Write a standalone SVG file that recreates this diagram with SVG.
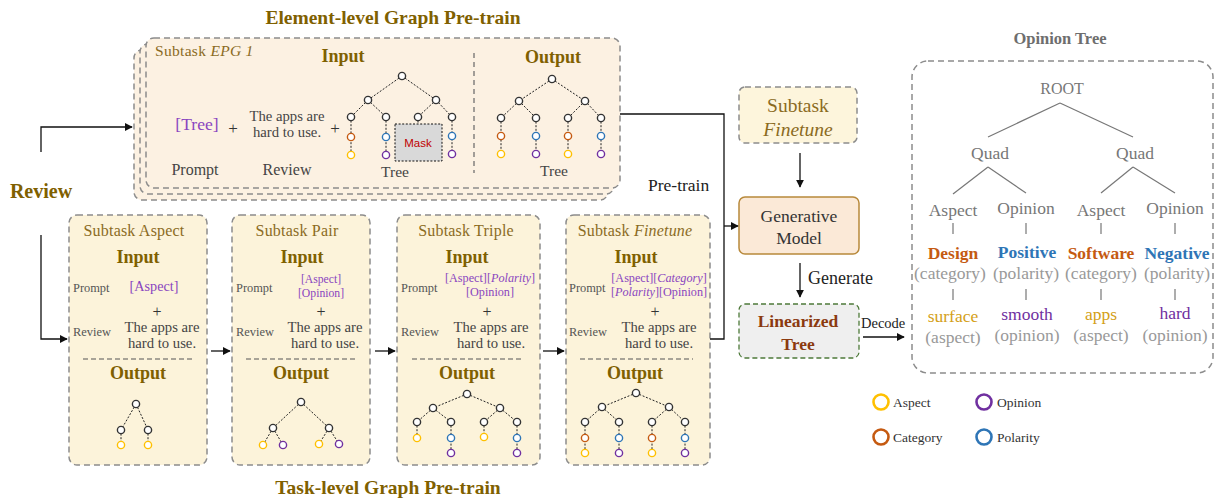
<svg xmlns="http://www.w3.org/2000/svg" width="1219" height="499" viewBox="0 0 1219 499">
<defs>
<marker id="ah" viewBox="0 0 10 10" refX="9" refY="5" markerWidth="8" markerHeight="8" markerUnits="userSpaceOnUse" orient="auto"><path d="M0,0 L10,5 L0,10 z" fill="#111"/></marker>
<style>
text{font-family:"Liberation Serif","DejaVu Serif",serif}
.title{font-size:19.5px;font-weight:bold;fill:#7F6000}
.hd{font-size:18px;font-weight:bold;fill:#7F6000;text-anchor:middle}
.sub{font-size:16px;fill:#8B6B1F;text-anchor:middle;letter-spacing:0.2px}
.lab{font-size:12.4px;fill:#555}
.body{font-size:14.7px;fill:#444;text-anchor:middle}
.pr{fill:#8A45C0;text-anchor:middle}
.c{text-anchor:middle}
.pane{stroke:#8C8C8C;stroke-width:1.5;stroke-dasharray:6 4}
.top{fill:#FCF1E2}
.bot{fill:#FCF3DA}
.e{stroke:#222;stroke-width:1;stroke-dasharray:2 1.6;fill:none}
.n{fill:#fff;stroke-width:1.4}
.k{stroke:#333}.y{stroke:#FFC000}.o{stroke:#C55A11}.b{stroke:#2E75B6}.p{stroke:#7030A0}
.conn{stroke:#111;stroke-width:1.3;fill:none}
.ot{font-size:17.5px;fill:#777;text-anchor:middle}
.og{font-size:17.5px;fill:#999;text-anchor:middle}
.ol{stroke:#777;stroke-width:1.2}
.lg{fill:#fff;stroke-width:2.6}
.lgt{font-size:13.5px;fill:#333}
</style>
</defs>
<rect width="1219" height="499" fill="#fff"/>

<text class="title" x="393" y="24" text-anchor="middle">Element-level Graph Pre-train</text>
<text class="title" x="388" y="494" text-anchor="middle">Task-level Graph Pre-train</text>
<text x="41" y="198" style="font-size:20px;font-weight:bold;fill:#7F6000" text-anchor="middle">Review</text>

<g id="epg">
<rect class="pane top" x="134" y="50" width="474" height="150" rx="8"/>
<rect class="pane top" x="140" y="44" width="474" height="150" rx="8"/>
<rect class="pane top" x="146" y="38" width="474" height="150" rx="8"/>
<text x="155" y="56" style="font-size:15.5px;fill:#8B6B1F;letter-spacing:0.3px">Subtask <tspan font-style="italic">EPG 1</tspan></text>
<text class="hd" x="343" y="62">Input</text>
<text class="hd" x="553" y="63">Output</text>
<line x1="474" y1="53" x2="474" y2="173" stroke="#666" stroke-width="1.2" stroke-dasharray="5 4"/>
<text class="pr" x="197" y="130" style="font-size:17.6px">[Tree]</text>
<text class="c" x="233" y="134" style="font-size:17px;fill:#333">+</text>
<text class="body" x="287" y="121">The apps are</text>
<text class="body" x="287" y="137">hard to use.</text>
<text class="c" x="335" y="134" style="font-size:17px;fill:#333">+</text>
<text class="c" x="195" y="175" style="font-size:16px;fill:#444">Prompt</text>
<text class="c" x="287" y="175" style="font-size:16px;fill:#444">Review</text>
<text class="c" x="395" y="177" style="font-size:15.5px;fill:#444">Tree</text>
<text class="c" x="554" y="176" style="font-size:15.5px;fill:#444">Tree</text>
<!-- input tree -->
<path class="e" d="M402,76 L368,100 M402,76 L436,100 M368,100 L351,117 M368,100 L386,117 M436,100 L418,117 M436,100 L452,117 M351,117 V155 M386,117 V155 M418,117 V137 M452,117 V154"/>
<circle class="n k" cx="402" cy="76" r="3.6"/>
<circle class="n k" cx="368" cy="100" r="3.6"/>
<circle class="n k" cx="436" cy="100" r="3.6"/>
<circle class="n k" cx="351" cy="117" r="3.6"/>
<circle class="n k" cx="386" cy="117" r="3.6"/>
<circle class="n k" cx="418" cy="117" r="3.6"/>
<circle class="n k" cx="452" cy="117" r="3.6"/>
<circle class="n o" cx="351" cy="137" r="3.6"/>
<circle class="n b" cx="386" cy="137" r="3.6"/>
<circle class="n b" cx="452" cy="136" r="3.6"/>
<circle class="n y" cx="351" cy="155" r="3.6"/>
<circle class="n p" cx="386" cy="155" r="3.6"/>
<circle class="n p" cx="452" cy="154" r="3.6"/>
<rect x="395" y="124" width="47" height="37" fill="#D9D9D9" stroke="#111" stroke-width="1" stroke-dasharray="2 1.6"/>
<text x="418" y="147" text-anchor="middle" style="font-family:'Liberation Sans',Arial,sans-serif;font-size:11.5px;fill:#C00000">Mask</text>
<!-- output tree -->
<path class="e" d="M552,79 L519,101 M552,79 L585,101 M519,101 L501,118 M519,101 L536,118 M585,101 L568,118 M585,101 L601,118 M501,118 V154 M536,118 V154 M568,118 V154 M601,118 V154"/>
<circle class="n k" cx="552" cy="79" r="3.6"/>
<circle class="n k" cx="519" cy="101" r="3.6"/>
<circle class="n k" cx="585" cy="101" r="3.6"/>
<circle class="n k" cx="501" cy="118" r="3.6"/>
<circle class="n k" cx="536" cy="118" r="3.6"/>
<circle class="n k" cx="568" cy="118" r="3.6"/>
<circle class="n k" cx="601" cy="118" r="3.6"/>
<circle class="n o" cx="501" cy="136" r="3.6"/>
<circle class="n b" cx="536" cy="136" r="3.6"/>
<circle class="n o" cx="568" cy="136" r="3.6"/>
<circle class="n b" cx="601" cy="136" r="3.6"/>
<circle class="n y" cx="501" cy="154" r="3.6"/>
<circle class="n p" cx="536" cy="154" r="3.6"/>
<circle class="n y" cx="568" cy="154" r="3.6"/>
<circle class="n p" cx="601" cy="154" r="3.6"/>
</g>

<g id="task-aspect">
<rect class="pane bot" x="69" y="215" width="138" height="250" rx="8"/>
<text class="sub" x="134" y="236">Subtask  Aspect</text>
<text class="hd" x="138" y="263">Input</text>
<text class="lab" x="73" y="292">Prompt</text>
<text class="pr" x="154" y="291" style="font-size:14.2px">[Aspect]</text>
<text class="c" x="157" y="317" style="font-size:16px;fill:#333">+</text>
<text class="lab" x="73" y="336">Review</text>
<text class="body" x="162" y="332">The apps are</text>
<text class="body" x="162" y="348">hard to use.</text>
<line x1="83" y1="359" x2="194" y2="359" stroke="#555" stroke-width="1.2" stroke-dasharray="5 3"/>
<text class="hd" x="138" y="379">Output</text>
<path class="e" d="M136,404 L121,430 M136,404 L148,430 M121,430 V445 M148,430 V445"/>
<circle class="n k" cx="136" cy="404" r="3.6"/>
<circle class="n k" cx="121" cy="430" r="3.6"/>
<circle class="n k" cx="148" cy="430" r="3.6"/>
<circle class="n y" cx="121" cy="445" r="3.6"/>
<circle class="n y" cx="148" cy="445" r="3.6"/>
</g>

<g id="task-pair">
<rect class="pane bot" x="232" y="215" width="138" height="250" rx="8"/>
<text class="sub" x="297" y="236">Subtask  Pair</text>
<text class="hd" x="302" y="263">Input</text>
<text class="lab" x="236" y="292">Prompt</text>
<text class="pr" x="321" y="283" style="font-size:11.7px">[Aspect]</text>
<text class="pr" x="321" y="297" style="font-size:11.7px">[Opinion]</text>
<text class="c" x="321" y="317" style="font-size:16px;fill:#333">+</text>
<text class="lab" x="236" y="336">Review</text>
<text class="body" x="325" y="332">The apps are</text>
<text class="body" x="325" y="348">hard to use.</text>
<line x1="246" y1="359" x2="357" y2="359" stroke="#555" stroke-width="1.2" stroke-dasharray="5 3"/>
<text class="hd" x="301" y="379">Output</text>
<path class="e" d="M301,402 L273,428 M301,402 L329,428 M273,428 L263,445 M273,428 L283,445 M329,428 L319,444 M329,428 L339,444"/>
<circle class="n k" cx="301" cy="402" r="3.6"/>
<circle class="n k" cx="273" cy="428" r="3.6"/>
<circle class="n k" cx="329" cy="428" r="3.6"/>
<circle class="n y" cx="263" cy="445" r="3.6"/>
<circle class="n p" cx="283" cy="445" r="3.6"/>
<circle class="n y" cx="319" cy="444" r="3.6"/>
<circle class="n p" cx="339" cy="444" r="3.6"/>
</g>

<g id="task-triple">
<rect class="pane bot" x="397" y="215" width="143" height="250" rx="8"/>
<text class="sub" x="466" y="236">Subtask  Triple</text>
<text class="hd" x="467" y="263">Input</text>
<text class="lab" x="401" y="292">Prompt</text>
<text class="pr" x="490" y="282" style="font-size:12.2px">[Aspect][<tspan font-style="italic">Polarity</tspan>]</text>
<text class="pr" x="490" y="296" style="font-size:12.2px">[Opinion]</text>
<text class="c" x="487" y="317" style="font-size:16px;fill:#333">+</text>
<text class="lab" x="401" y="336">Review</text>
<text class="body" x="491" y="332">The apps are</text>
<text class="body" x="491" y="348">hard to use.</text>
<line x1="412" y1="359" x2="524" y2="359" stroke="#555" stroke-width="1.2" stroke-dasharray="5 3"/>
<text class="hd" x="467" y="379">Output</text>
<path class="e" d="M467,394 L433,408 M467,394 L500,408 M433,408 L417,422 M433,408 L451,422 M500,408 L484,422 M500,408 L517,422 M417,422 V438 M451,422 V453 M484,422 V438 M517,422 V453"/>
<circle class="n k" cx="467" cy="394" r="3.6"/>
<circle class="n k" cx="433" cy="408" r="3.6"/>
<circle class="n k" cx="500" cy="408" r="3.6"/>
<circle class="n k" cx="417" cy="422" r="3.6"/>
<circle class="n k" cx="451" cy="422" r="3.6"/>
<circle class="n k" cx="484" cy="422" r="3.6"/>
<circle class="n k" cx="517" cy="422" r="3.6"/>
<circle class="n y" cx="417" cy="438" r="3.6"/>
<circle class="n b" cx="451" cy="438" r="3.6"/>
<circle class="n y" cx="484" cy="437" r="3.6"/>
<circle class="n b" cx="517" cy="438" r="3.6"/>
<circle class="n p" cx="451" cy="453" r="3.6"/>
<circle class="n p" cx="517" cy="453" r="3.6"/>
</g>

<g id="task-finetune">
<rect class="pane bot" x="566" y="215" width="144" height="250" rx="8"/>
<text class="sub" x="635" y="236">Subtask  <tspan font-style="italic">Finetune</tspan></text>
<text class="hd" x="636" y="263">Input</text>
<text class="lab" x="569" y="292">Prompt</text>
<text class="pr" x="659" y="282" style="font-size:12.2px">[Aspect][<tspan font-style="italic">Category</tspan>]</text>
<text class="pr" x="659" y="296" style="font-size:12.2px">[<tspan font-style="italic">Polarity</tspan>][Opinion]</text>
<text class="c" x="655" y="317" style="font-size:16px;fill:#333">+</text>
<text class="lab" x="569" y="336">Review</text>
<text class="body" x="659" y="332">The apps are</text>
<text class="body" x="659" y="348">hard to use.</text>
<line x1="580" y1="359" x2="693" y2="359" stroke="#555" stroke-width="1.2" stroke-dasharray="5 3"/>
<text class="hd" x="635" y="379">Output</text>
<path class="e" d="M636,393 L602,407 M636,393 L669,407 M602,407 L585,422 M602,407 L619,422 M669,407 L652,422 M669,407 L685,422 M585,422 V453 M619,422 V453 M652,422 V453 M685,422 V453"/>
<circle class="n k" cx="636" cy="393" r="3.6"/>
<circle class="n k" cx="602" cy="407" r="3.6"/>
<circle class="n k" cx="669" cy="407" r="3.6"/>
<circle class="n k" cx="585" cy="422" r="3.6"/>
<circle class="n k" cx="619" cy="422" r="3.6"/>
<circle class="n k" cx="652" cy="422" r="3.6"/>
<circle class="n k" cx="685" cy="422" r="3.6"/>
<circle class="n o" cx="585" cy="438" r="3.6"/>
<circle class="n b" cx="619" cy="438" r="3.6"/>
<circle class="n o" cx="652" cy="438" r="3.6"/>
<circle class="n b" cx="685" cy="438" r="3.6"/>
<circle class="n y" cx="585" cy="453" r="3.6"/>
<circle class="n p" cx="619" cy="453" r="3.6"/>
<circle class="n y" cx="652" cy="453" r="3.6"/>
<circle class="n p" cx="685" cy="453" r="3.6"/>
</g>

<g id="subtask-finetune">
<rect x="739" y="87" width="118" height="56" rx="6" fill="#FDF5DC" class="pane"/>
<text class="c" x="798" y="112" style="font-size:19.5px;fill:#8B6B1F">Subtask</text>
<text class="c" x="798" y="136" style="font-size:19.5px;fill:#8B6B1F;font-style:italic">Finetune</text>
</g>

<g id="generative-model">
<rect x="739" y="197" width="120" height="57" rx="6" fill="#FBE9D7" stroke="#B8893B" stroke-width="1.5"/>
<text class="c" x="799" y="222" style="font-size:17.5px;fill:#333">Generative</text>
<text class="c" x="799" y="244" style="font-size:17.5px;fill:#333">Model</text>
</g>

<g id="linearized-tree">
<rect x="739" y="304" width="120" height="54" rx="6" fill="#EFEFEF" stroke="#4E7A3A" stroke-width="1.3" stroke-dasharray="5 3"/>
<text class="c" x="798" y="327" style="font-size:17.5px;font-weight:bold;fill:#8B3A0F">Linearized</text>
<text class="c" x="798" y="350" style="font-size:17.5px;font-weight:bold;fill:#8B3A0F">Tree</text>
</g>

<g id="connectors">
<path class="conn" d="M41,152 V127 H132" marker-end="url(#ah)"/>
<path class="conn" d="M41,235 V339 H67" marker-end="url(#ah)"/>
<path class="conn" d="M211,351 H230" marker-end="url(#ah)"/>
<path class="conn" d="M375,351 H395" marker-end="url(#ah)"/>
<path class="conn" d="M543,351 H564" marker-end="url(#ah)"/>
<path class="conn" d="M620,114 H724 V339 H710"/>
<path class="conn" d="M724,226 H738" marker-end="url(#ah)"/>
<path class="conn" d="M800,153 V187" marker-end="url(#ah)"/>
<path class="conn" d="M800,263 V297" marker-end="url(#ah)"/>
<path class="conn" d="M863,337 H904" marker-end="url(#ah)"/>
<text x="648" y="191" style="font-size:17.5px;fill:#222">Pre-train</text>
<text x="808" y="284" style="font-size:18px;fill:#222">Generate</text>
<text x="861" y="328" style="font-size:14.5px;fill:#222">Decode</text>
</g>

<g id="opinion-tree">
<text x="1060" y="44" text-anchor="middle" style="font-size:16.5px;font-weight:bold;fill:#6E6E6E">Opinion Tree</text>
<rect x="912" y="61" width="301" height="312" rx="16" fill="#fff" class="pane"/>
<text class="ot" x="1062" y="94" style="font-size:16px">ROOT</text>
<line class="ol" x1="1060" y1="103" x2="988" y2="137"/>
<line class="ol" x1="1060" y1="103" x2="1133" y2="137"/>
<text class="ot" x="990" y="159">Quad</text>
<text class="ot" x="1135" y="159">Quad</text>
<line class="ol" x1="988" y1="167" x2="953" y2="194"/>
<line class="ol" x1="988" y1="167" x2="1026" y2="193"/>
<line class="ol" x1="1133" y1="167" x2="1101" y2="193"/>
<line class="ol" x1="1133" y1="167" x2="1175" y2="193"/>
<text class="ot" x="953" y="216">Aspect</text>
<text class="ot" x="1026" y="214">Opinion</text>
<text class="ot" x="1101" y="216">Aspect</text>
<text class="ot" x="1175" y="214">Opinion</text>
<path class="ol" d="M953,223 V234 M1026,223 V234 M1101,223 V234 M1175,223 V234 M953,289 V300 M1026,289 V300 M1101,289 V300 M1175,289 V300"/>
<text class="c" x="953" y="259" style="font-size:17.5px;font-weight:bold;fill:#C55A11">Design</text>
<text class="c" x="1027" y="258" style="font-size:17.5px;font-weight:bold;fill:#2E75B6">Positive</text>
<text class="c" x="1101" y="259" style="font-size:17.5px;font-weight:bold;fill:#C55A11">Software</text>
<text class="c" x="1177" y="259" style="font-size:17.5px;font-weight:bold;fill:#2E75B6">Negative</text>
<text class="og" x="950" y="279">(category)</text>
<text class="og" x="1026" y="279">(polarity)</text>
<text class="og" x="1101" y="279">(category)</text>
<text class="og" x="1177" y="279">(polarity)</text>
<text class="c" x="953" y="322" style="font-size:17.5px;fill:#D4A017">surface</text>
<text class="c" x="1027" y="320" style="font-size:17.5px;fill:#7030A0">smooth</text>
<text class="c" x="1101" y="320" style="font-size:17.5px;fill:#D4A017">apps</text>
<text class="c" x="1175" y="319" style="font-size:17.5px;fill:#7030A0">hard</text>
<text class="og" x="953" y="343">(aspect)</text>
<text class="og" x="1027" y="341">(opinion)</text>
<text class="og" x="1101" y="341">(aspect)</text>
<text class="og" x="1175" y="341">(opinion)</text>
</g>

<g id="legend">
<circle class="lg y" cx="881" cy="402" r="7.5"/>
<text class="lgt" x="893" y="407">Aspect</text>
<circle class="lg p" cx="984" cy="402" r="7.5"/>
<text class="lgt" x="997" y="407">Opinion</text>
<circle class="lg o" cx="881" cy="437" r="7.5"/>
<text class="lgt" x="893" y="442">Category</text>
<circle class="lg b" cx="984" cy="437" r="7.5"/>
<text class="lgt" x="997" y="442">Polarity</text>
</g>
</svg>
